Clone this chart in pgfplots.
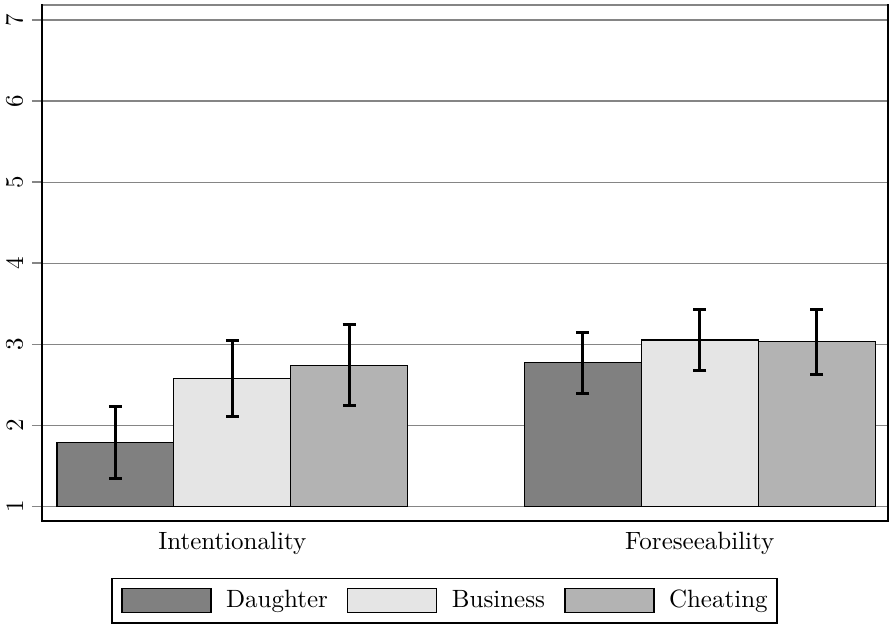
\documentclass[border=0pt]{standalone}
\usepackage{pgfplots}
\usepackage{pgfplotstable}
\pgfplotsset{compat=1.18}

\definecolor{cDaughter}{HTML}{808080}
\definecolor{cBusiness}{HTML}{E5E5E5}
\definecolor{cCheating}{HTML}{B3B3B3}
\definecolor{gridgray}{HTML}{858585}

% x = bar position, y = mean, e = half width of the error bar
\pgfplotstableread{
x y e
1 1.79 0.446
5 2.774 0.377
}\daughter
\pgfplotstableread{
x y e
2 2.58 0.469
6 3.053 0.38
}\business
\pgfplotstableread{
x y e
3 2.741 0.502
7 3.033 0.40
}\cheating

\pgfplotsset{
  mybar/.style={
    ybar, bar width=1, bar shift=0pt,
    draw=black, line width=0.5pt,
    fill=#1,
    error bars/.cd, y dir=both, y explicit,
    error bar style={black, line width=1.2pt},
    error mark options={rotate=90, black, line width=1.2pt, mark size=2.6pt},
    /pgfplots/.cd,
    legend image code/.code={
      \draw[fill=#1, draw=black, line width=0.5pt] (0pt,-4.8pt) rectangle (35.6pt,4.8pt);
    },
  },
}

\begin{document}
\begin{tikzpicture}
\path[use as bounding box] (-16.8pt,-40.8pt) rectangle (339.2pt,208.4pt);
\begin{axis}[
  scale only axis,
  width=338.4pt, height=206.4pt,
  xmin=0.372, xmax=7.61,
  ymin=-0.18, ymax=6.185,
  ytick={0,1,2,3,4,5,6},
  yticklabels={1,2,3,4,5,6,7},
  ytick pos=left,
  tick align=outside,
  major tick length=4pt,
  y tick style={gridgray, line width=0.6pt},
  yticklabel style={rotate=90, anchor=south},
  xtick={2,6},
  xticklabels={Intentionality,Foreseeability},
  xtick pos=bottom,
  x tick style={draw=none},
  xticklabel style={yshift=3pt},
  ymajorgrids,
  grid style={gridgray, line width=0.5pt},
  axis line style={black, line width=0.8pt},
  legend columns=3,
  legend style={
    at={(0.4758,-0.1105)}, anchor=north,
    draw=black, line width=0.5pt,
    inner xsep=3.7pt, inner ysep=3.8pt,
    nodes={inner xsep=0pt, inner ysep=0pt},
    /tikz/every odd column/.append style={column sep=5.8pt},
    /tikz/every even column/.append style={column sep=7.7pt},
  },
]
\addplot[mybar=cDaughter] table[x=x, y expr=\thisrow{y}-1, y error=e] {\daughter};
\addplot[mybar=cBusiness] table[x=x, y expr=\thisrow{y}-1, y error=e] {\business};
\addplot[mybar=cCheating] table[x=x, y expr=\thisrow{y}-1, y error=e] {\cheating};
\legend{Daughter, Business, Cheating}
\end{axis}
% the top edge of the frame is grey in the reference
\draw[white, line width=0.9pt] ([xshift=0.4pt]current axis.north west) -- ([xshift=-0.4pt]current axis.north east);
\draw[gridgray, line width=0.6pt] ([xshift=0.4pt]current axis.north west) -- ([xshift=-0.4pt]current axis.north east);
\end{tikzpicture}
\end{document}
